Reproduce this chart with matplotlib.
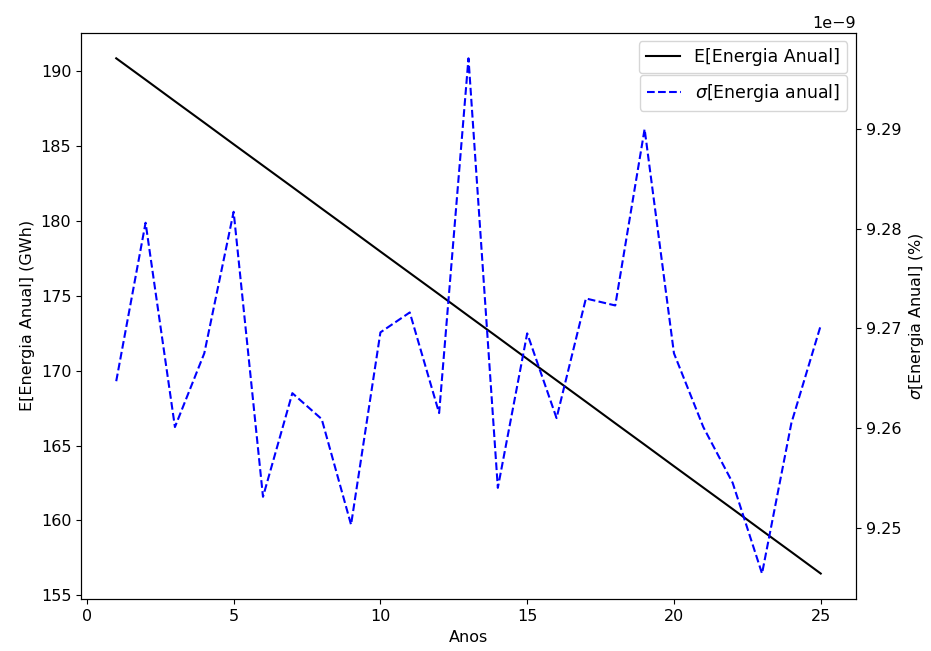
import matplotlib
matplotlib.use("Agg")
import matplotlib.pyplot as plt

plt.rcParams["font.size"] = 11.5

anos = list(range(1, 26))

# Expected annual energy (GWh)
energia_media = [190.87, 189.44, 188.00, 186.57, 185.13, 183.70, 182.27, 180.83,
                 179.40, 177.96, 176.53, 175.10, 173.66, 172.23, 170.79, 169.36,
                 167.93, 166.49, 165.06, 163.62, 162.19, 160.76, 159.32, 157.89,
                 156.45]

# Standard deviation of annual energy (%)
energia_desvio = [9.2647e-9, 9.2806e-9, 9.2601e-9, 9.2675e-9, 9.2817e-9, 9.2531e-9,
                  9.2635e-9, 9.2609e-9, 9.2503e-9, 9.2696e-9, 9.2716e-9, 9.2615e-9,
                  9.2971e-9, 9.2540e-9, 9.2695e-9, 9.2610e-9, 9.2730e-9, 9.2723e-9,
                  9.2900e-9, 9.2675e-9, 9.2601e-9, 9.2545e-9, 9.2454e-9, 9.2605e-9,
                  9.2703e-9]

fig, ax = plt.subplots(figsize=(9.31, 6.51), dpi=100)
fig.subplots_adjust(left=0.087, right=0.9194, top=0.950, bottom=0.0794)

ax.plot(anos, energia_media, color="black", linestyle="-", linewidth=1.5,
        label="E[Energia Anual]")
ax.set_xlabel("Anos")
ax.set_ylabel("E[Energia Anual] (GWh)")
ax.legend(loc="upper right", fontsize=12.5)

ax2 = ax.twinx()
ax2.plot(anos, energia_desvio, color="blue", linestyle="--", linewidth=1.5,
         label=r"$\sigma$[Energia anual]")
ax2.set_ylabel(r"$\sigma$[Energia Anual] (%)")
ax2.legend(loc="upper right", bbox_to_anchor=(1.0, 0.941), fontsize=12.5)

fig.savefig("out.png", dpi=100)
